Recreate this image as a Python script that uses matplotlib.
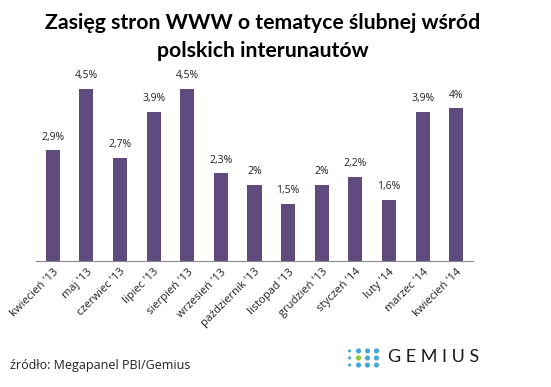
import numpy as np
import matplotlib.pyplot as plt

months = ["kwiecień '13", "maj '13", "czerwiec '13", "lipiec '13", "sierpień '13",
          "wrzesień '13", "październik '13", "listopad '13", "grudzień '13",
          "styczeń '14", "luty '14", "marzec '14", "kwiecień '14"]
reach = [2.9, 4.5, 2.7, 3.9, 4.5, 2.3, 2.0, 1.5, 2.0, 2.2, 1.6, 3.9, 4.0]
labels = ["2,9%", "4,5%", "2,7%", "3,9%", "4,5%", "2,3%", "2%", "1,5%", "2%",
          "2,2%", "1,6%", "3,9%", "4%"]

plt.rcParams['font.family'] = ['Open Sans', 'DejaVu Sans']

fig = plt.figure(figsize=(5.51, 3.87), dpi=100)
ax = fig.add_axes([36/551, 1 - 261/387, 437/551, (261 - 70)/387])

x = np.arange(len(months))
ax.bar(x, reach, width=0.42, color='#5F4B7D')
for xi, v, t in zip(x, reach, labels):
    ax.text(xi, v + 0.2, t, ha='center', va='bottom', fontsize=7.5, color='#222222')

ax.set_xlim(-0.5, len(months) - 0.5)
ax.set_ylim(0, 5)
ax.set_yticks([])
ax.set_xticks(x)
ax.set_xticklabels(months, rotation=45, ha='right', rotation_mode='anchor',
                   fontsize=8, color='#222222')
ax.tick_params(axis='x', length=0, pad=4)
for s in ['top', 'right', 'left']:
    ax.spines[s].set_visible(False)
ax.spines['bottom'].set_color('#888888')

fig.text(263/551, 1 - 37/387, "Zasięg stron WWW o tematyce ślubnej wśród\npolskich interunautów",
         ha='center', va='center', fontsize=15.3, fontweight='bold', linespacing=1.45,
         family=['Lato', 'DejaVu Sans'])

fig.text(10/551, 1 - 366/387, "źródło: Megapanel PBI/Gemius", ha='left', va='center',
         fontsize=9, color='#222222')

# logo
lax = fig.add_axes([345/551, 1 - 370/387, 36/551, 24/387])
lax.axis('off')
for r in range(3):
    for c in range(4):
        col = '#8DC63F' if (r == 1 and c == 1) else '#4BA7DB'
        size = 5 if c == 0 else 14
        lax.scatter(c, r, s=size, color=col, edgecolors='none')
lax.set_xlim(-0.5, 3.5)
lax.set_ylim(-0.7, 2.7)
fig.text(388/551, 1 - 357/387, "G E M I U S", ha='left', va='center',
         fontsize=13, color='#1a1a1a', family=['Lato', 'DejaVu Sans'])

fig.savefig('out.png', dpi=100)
